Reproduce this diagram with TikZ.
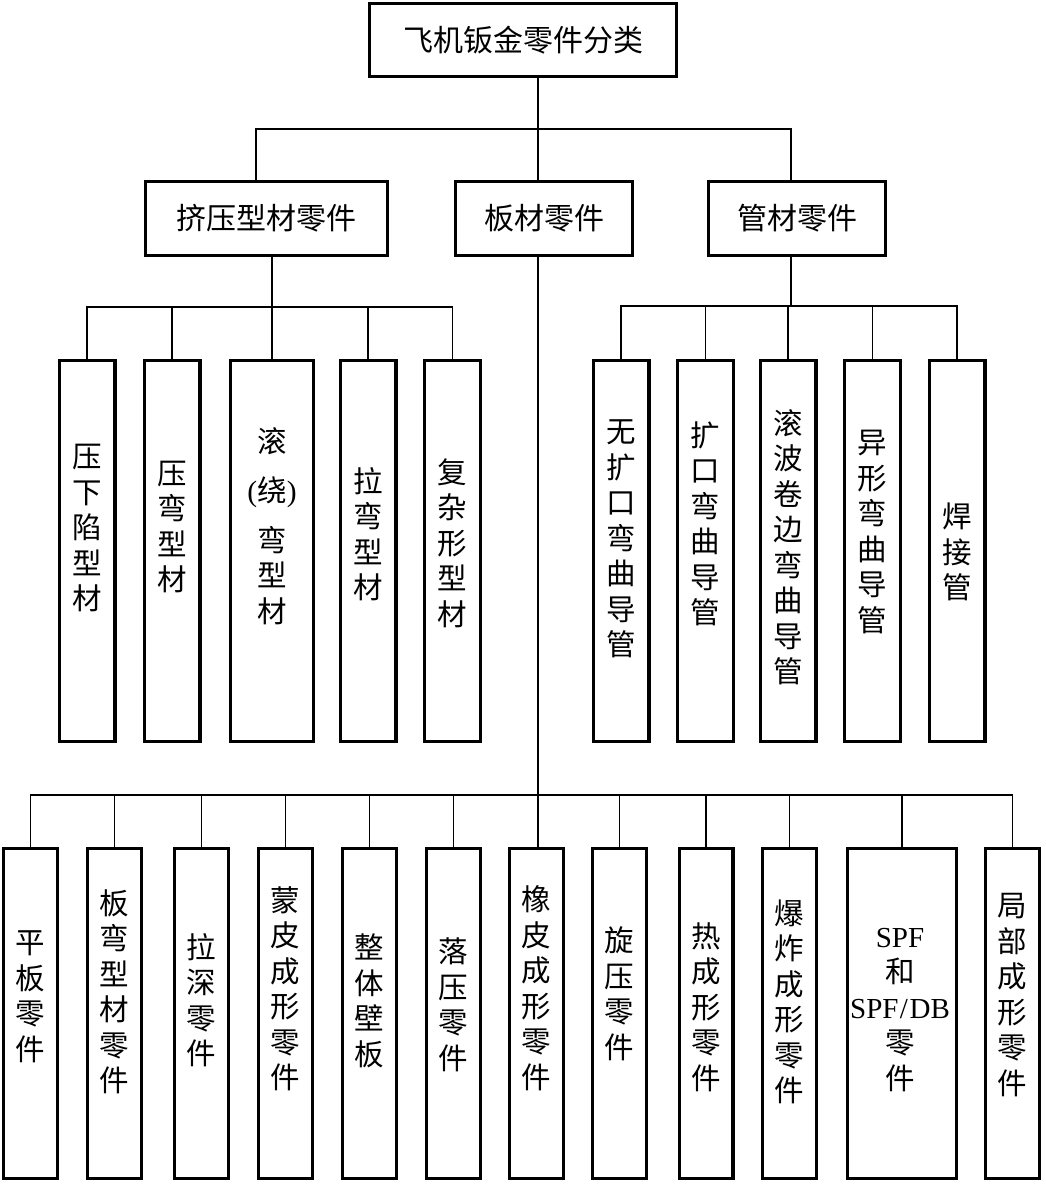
\documentclass[tikz,border=0pt]{standalone}
\usepackage{fontspec}
\setmainfont{Liberation Serif}
\newfontfamily\cjk{Noto Sans CJK SC}
\begin{document}
\begin{tikzpicture}[x=1pt,y=-1pt,
  bx/.style={draw, line width=3.4pt, inner sep=0pt},
  ln/.style={line width=1.1pt},
  ht/.style={font=\cjk\fontsize{30}{35}\selectfont},
  vt/.style={font=\cjk\fontsize{29.5}{35.5}\selectfont, align=center, inner sep=0pt},
  tall/.style={bx, minimum width=55.6pt, minimum height=380.6pt},
  low/.style={bx, minimum width=53.6pt, minimum height=329.6pt}]
\useasboundingbox[fill=white] (0,0) rectangle (1046,1184);
% level 0 and 1
\node[bx, ht, minimum width=306.6pt, minimum height=72.6pt] (root) at (523,40) {飞机钣金零件分类};
\node[bx, ht, minimum width=241.6pt, minimum height=73.6pt] (l1a) at (266.5,218.5) {挤压型材零件};
\node[bx, ht, minimum width=176.6pt, minimum height=73.6pt] (l1b) at (544,218.5) {板材零件};
\node[bx, ht, minimum width=176.6pt, minimum height=73.6pt] (l1c) at (797,218.5) {管材零件};
% extruded profiles
\node[tall] (a1) at (87,551) {};
\node[tall] (a2) at (172,551) {};
\node[tall, minimum width=82.6pt] (a3) at (272,551) {};
\node[tall] (a4) at (368,551) {};
\node[tall] (a5) at (452.5,551) {};
\node[vt] (a1t) at (87,528) {压\\下\\陷\\型\\材};
\node[vt] (a2t) at (172,527) {压\\弯\\型\\材};
\node[vt] (a3t) at (272,526) {滚\\[14pt]{\rmfamily(}绕{\rmfamily)}\\[14pt]弯\\型\\材};
\node[vt] (a4t) at (368,534) {拉\\弯\\型\\材};
\node[vt] (a5t) at (452.5,543) {复\\杂\\形\\型\\材};
% tubes
\node[tall] (b1) at (621,551) {};
\node[tall] (b2) at (705.5,551) {};
\node[tall] (b3) at (788,551) {};
\node[tall] (b4) at (872.5,551) {};
\node[tall] (b5) at (957,551) {};
\node[vt] (b1t) at (621,539) {无\\扩\\口\\弯\\曲\\导\\管};
\node[vt] (b2t) at (705.5,524) {扩\\口\\弯\\曲\\导\\管};
\node[vt] (b3t) at (788,547) {滚\\波\\卷\\边\\弯\\曲\\导\\管};
\node[vt] (b4t) at (872.5,532) {异\\形\\弯\\曲\\导\\管};
\node[vt] (b5t) at (957,552) {焊\\接\\管};
% sheet parts
\node[low] (c1) at (30.5,1013.5) {};
\node[low] (c2) at (114.5,1013.5) {};
\node[low] (c3) at (201.5,1013.5) {};
\node[low] (c4) at (285.5,1013.5) {};
\node[low] (c5) at (369.5,1013.5) {};
\node[low] (c6) at (453.5,1013.5) {};
\node[low] (c7) at (536.5,1013.5) {};
\node[low] (c8) at (619.5,1013.5) {};
\node[low] (c9) at (706,1013.5) {};
\node[low] (c10) at (789.5,1013.5) {};
\node[low, minimum width=108.6pt] (c11) at (902,1013.5) {};
\node[low] (c12) at (1012.5,1013.5) {};
\node[vt] (c1t) at (30.5,997) {平\\板\\零\\件};
\node[vt] (c2t) at (114.5,992) {板\\弯\\型\\材\\零\\件};
\node[vt] (c3t) at (201.5,1000) {拉\\深\\零\\件};
\node[vt] (c4t) at (285.5,989) {蒙\\皮\\成\\形\\零\\件};
\node[vt] (c5t) at (369.5,1001) {整\\体\\壁\\板};
\node[vt] (c6t) at (453.5,1005) {落\\压\\零\\件};
\node[vt] (c7t) at (536.5,988) {橡\\皮\\成\\形\\零\\件};
\node[vt] (c8t) at (619.5,994) {旋\\压\\零\\件};
\node[vt] (c9t) at (706,1007) {热\\成\\形\\零\\件};
\node[vt] (c10t) at (789.5,1002) {爆\\炸\\成\\形\\零\\件};
\node[vt] (c11t) at (900,1010) {{\rmfamily\fontsize{29}{35.5}\selectfont SPF}\\和\\{\rmfamily\fontsize{29}{35.5}\selectfont SPF\kern1.5pt/\kern1.5pt DB}\\零\\件};
\node[vt] (c12t) at (1012.5,995) {局\\部\\成\\形\\零\\件};
% connectors
\coordinate (t0) at (538,129);
\coordinate (t1) at (272,307);
\coordinate (t2) at (791,306);
\coordinate (t3) at (538,795);
\coordinate (xa) at (256,0);
\draw[ln] (root.south -| t0) -- (t0);
\draw[ln] (l1a.north -| xa) |- (t0) -| (l1c.north -| t2);
\draw[ln] (t0) -- (l1b.north -| t0);
\draw[ln] (l1a.south -| t1) -- (t1);
\draw[ln] (a1.north) |- (t1) -| (a5.north);
\foreach \n in {a2,a3,a4} \draw[ln] (\n.north) -- (\n.north |- t1);
\draw[ln] (l1c.south -| t2) -- (t2);
\draw[ln] (b1.north) |- (t2) -| (b5.north);
\foreach \n in {b2,b3,b4} \draw[ln] (\n.north) -- (\n.north |- t2);
\draw[ln] (l1b.south -| t0) -- (c7.north -| t0);
\draw[ln] (c1.north) |- (t3) -| (c12.north);
\foreach \n in {c2,c3,c4,c5,c6,c8,c9,c10,c11} \draw[ln] (\n.north) -- (\n.north |- t3);
\end{tikzpicture}
\end{document}
